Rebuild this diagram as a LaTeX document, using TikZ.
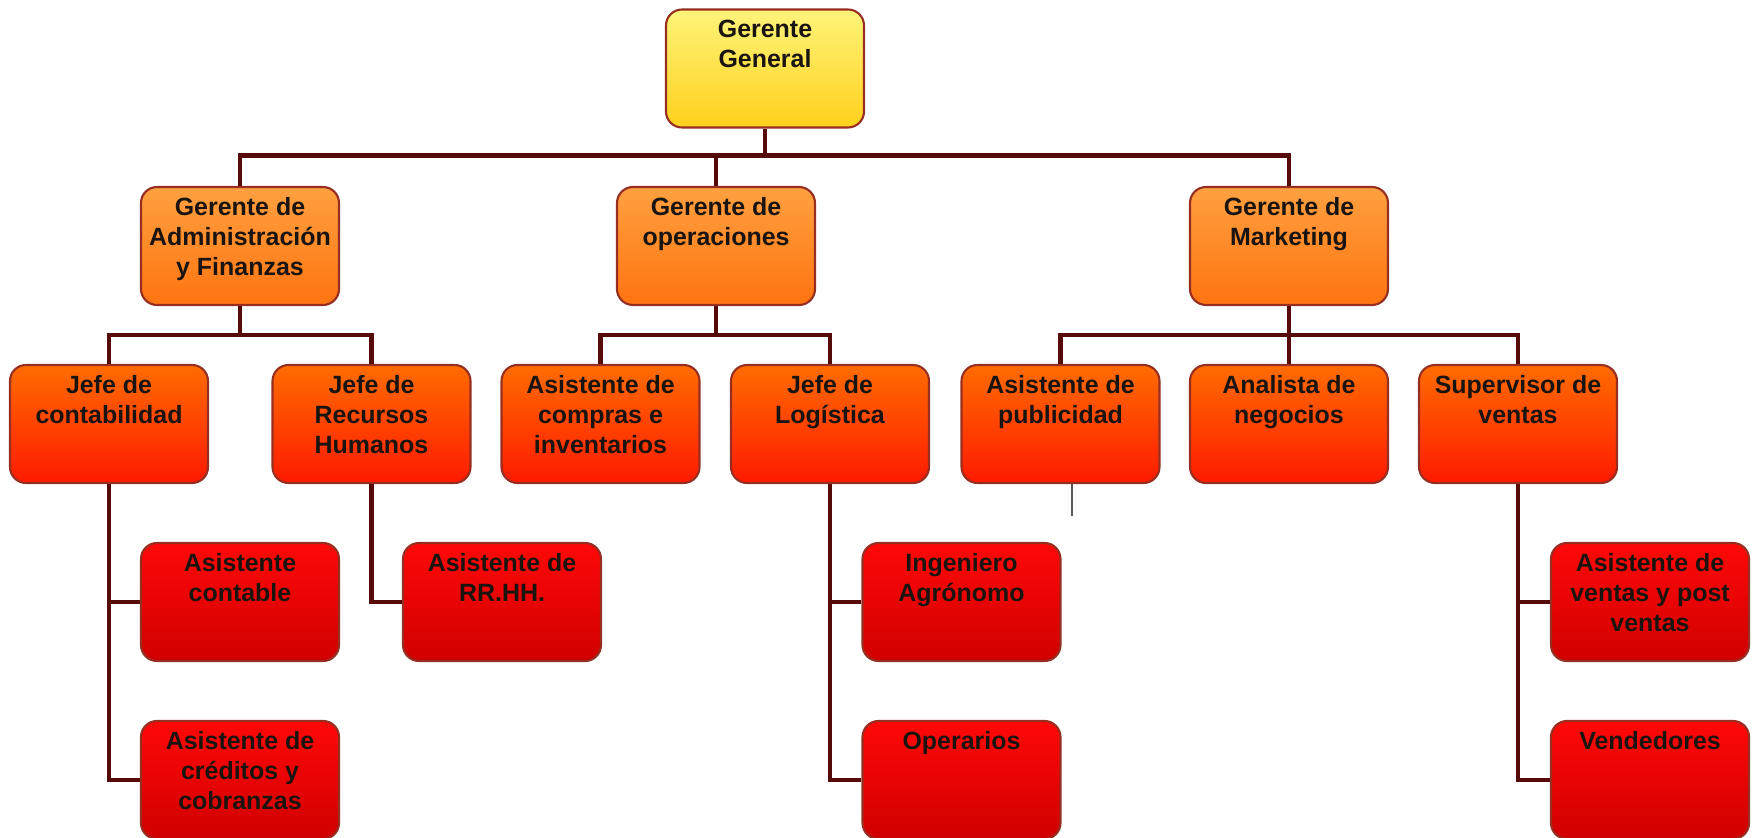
\documentclass[tikz,border=0pt]{standalone}
\usepackage{fontspec}
\setmainfont{Liberation Sans}

\definecolor{ggtop}{HTML}{FFF47A}
\definecolor{ggbot}{HTML}{FFD01C}
\definecolor{gertop}{HTML}{FFA040}
\definecolor{gerbot}{HTML}{FF7410}
\definecolor{jeftop}{HTML}{FF6C00}
\definecolor{jefbot}{HTML}{FF1A00}
\definecolor{asitop}{HTML}{FF0808}
\definecolor{asibot}{HTML}{D00000}
\definecolor{borde}{HTML}{962F22}
\definecolor{lineacol}{HTML}{560A0A}
\definecolor{texto}{HTML}{1A1410}

\tikzset{
  puesto/.style={draw=borde, line width=0.6pt, rounded corners=0.16cm,
    minimum width=1.98cm, minimum height=1.18cm, inner sep=0pt},
  nivelgg/.style={puesto, top color=ggtop, bottom color=ggbot},
  nivelger/.style={puesto, top color=gertop, bottom color=gerbot},
  niveljef/.style={puesto, top color=jeftop, bottom color=jefbot},
  nivelasi/.style={puesto, top color=asitop, bottom color=asibot},
  rotulo/.style={anchor=north, yshift=-0.11cm, inner sep=0pt, align=center,
    text=texto, font=\fontsize{7.1pt}{8.5pt}\selectfont\bfseries},
  linea/.style={draw=lineacol, line width=1.3pt},
}

\begin{document}
\begin{tikzpicture}
  \useasboundingbox (0,0) rectangle (17.52,-8.38);

  % gerencia general
  \node[nivelgg, label={[rotulo]north:{Gerente\\General}}] (gg) at (7.65,-0.685) {};

  % gerencias
  \node[nivelger, label={[rotulo]north:{Gerente de\\Administración\\y Finanzas}}] (adm) at (2.40,-2.46) {};
  \node[nivelger, label={[rotulo]north:{Gerente de\\operaciones}}] (ope) at (7.16,-2.46) {};
  \node[nivelger, label={[rotulo]north:{Gerente de\\Marketing}}] (mkt) at (12.89,-2.46) {};

  % jefaturas
  \node[niveljef, label={[rotulo]north:{Jefe de\\contabilidad}}] (jcon) at (1.09,-4.24) {};
  \node[niveljef, label={[rotulo]north:{Jefe de\\Recursos\\Humanos}}] (jrh) at (3.715,-4.24) {};
  \node[niveljef, label={[rotulo]north:{Asistente de\\compras e\\inventarios}}] (acom) at (6.005,-4.24) {};
  \node[niveljef, label={[rotulo]north:{Jefe de\\Logística}}] (jlog) at (8.30,-4.24) {};
  \node[niveljef, label={[rotulo]north:{Asistente de\\publicidad}}] (apub) at (10.605,-4.24) {};
  \node[niveljef, label={[rotulo]north:{Analista de\\negocios}}] (anal) at (12.89,-4.24) {};
  \node[niveljef, label={[rotulo]north:{Supervisor de\\ventas}}] (sven) at (15.18,-4.24) {};

  % asistentes
  \node[nivelasi, label={[rotulo]north:{Asistente\\contable}}] (acont) at (2.40,-6.02) {};
  \node[nivelasi, label={[rotulo]north:{Asistente de\\RR.HH.}}] (arh) at (5.02,-6.02) {};
  \node[nivelasi, label={[rotulo]north:{Ingeniero\\Agrónomo}}] (ing) at (9.615,-6.02) {};
  \node[nivelasi, label={[rotulo]north:{Asistente de\\ventas y post\\ventas}}] (aven) at (16.50,-6.02) {};
  \node[nivelasi, label={[rotulo]north:{Asistente de\\créditos y\\cobranzas}}] (acre) at (2.40,-7.80) {};
  \node[nivelasi, label={[rotulo]north:{Operarios}}] (oper) at (9.615,-7.80) {};
  \node[nivelasi, label={[rotulo]north:{Vendedores}}] (vend) at (16.50,-7.80) {};

  % conectores
  \draw[linea] (gg.south) -- ++(0,-0.27) coordinate (bus0);
  \draw[linea] (bus0) -| (adm.north);
  \draw[linea] (bus0) -| (ope.north);
  \draw[linea] (bus0) -| (mkt.north);

  \draw[linea] (adm.south) -- ++(0,-0.29) coordinate (busadm);
  \draw[linea] (busadm) -| (jcon.north);
  \draw[linea] (busadm) -| (jrh.north);
  \draw[linea] (ope.south) -- ++(0,-0.29) coordinate (busope);
  \draw[linea] (busope) -| (acom.north);
  \draw[linea] (busope) -| (jlog.north);
  \draw[linea] (mkt.south) -- ++(0,-0.29) coordinate (busmkt);
  \draw[linea] (busmkt) -| (apub.north);
  \draw[linea] (busmkt) -| (anal.north);
  \draw[linea] (busmkt) -| (sven.north);

  \draw[linea] (jcon.south) |- (acont.west);
  \draw[linea] (jcon.south) |- (acre.west);
  \draw[linea] (jrh.south) |- (arh.west);
  \draw[linea] (jlog.south) |- (ing.west);
  \draw[linea] (jlog.south) |- (oper.west);
  \draw[linea] (sven.south) |- (aven.west);
  \draw[linea] (sven.south) |- (vend.west);

  \draw[gray!70!black, line width=0.8pt] ([xshift=0.115cm]apub.south) -- ++(0,-0.32);
\end{tikzpicture}
\end{document}
